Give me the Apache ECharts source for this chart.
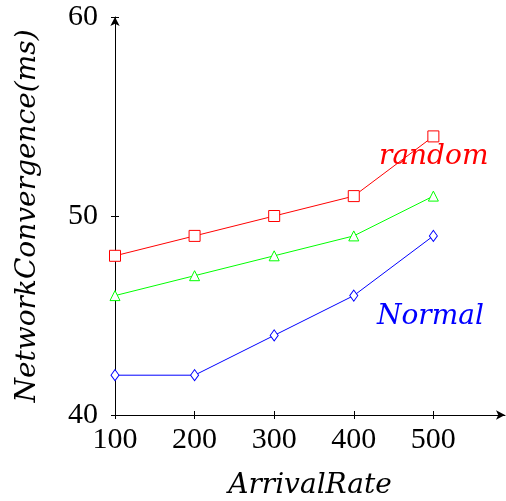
<!DOCTYPE html>
<html><head><meta charset="utf-8">
<script src="https://cdn.jsdelivr.net/npm/echarts@6/dist/echarts.min.js"></script>
<style>html,body{margin:0;padding:0;background:#fff}#c{width:506px;height:501px}</style>
</head><body><div id="c"></div>
<script>
const arrivalRate = [100, 200, 300, 400, 500];
const randomVals = [48, 49, 50, 51, 54];
const midVals = [46, 47, 48, 49, 51];
const normalVals = [42, 42, 44, 46, 49];
const xTicks = [100, 200, 300, 400, 500];
const yTicks = [40, 50, 60];

const numFont = '"Liberation Serif", serif';
const itFont = '"DejaVu Serif", serif';
const chart = echarts.init(document.getElementById('c'), null, {renderer: 'canvas'});
const pair = (xs, ys) => xs.map((x, i) => [x, ys[i]]);
chart.setOption({
  animation: false,
  grid: {left: 115, right: 1, top: 17, bottom: 86, containLabel: false, outerBoundsMode: 'none'},
  xAxis: [{
    type: 'value', min: 100, max: 590, interval: 100,
    splitLine: {show: false},
    axisLine: {lineStyle: {color: '#000', width: 1}, symbol: ['none', 'arrow'], symbolSize: [7, 9]},
    axisTick: {length: 4, lineStyle: {color: '#000'}, customValues: xTicks},
    axisLabel: {fontFamily: numFont, fontSize: 30, color: '#000', margin: 10, customValues: xTicks},
    name: 'ArrivalRate', nameLocation: 'middle', nameGap: 57,
    nameTextStyle: {fontFamily: itFont, fontStyle: 'italic', fontSize: 28, color: '#000'}
  }, {
    type: 'value', min: 100, max: 590, interval: 100, position: 'bottom',
    axisLine: {show: false}, splitLine: {show: false}, axisLabel: {show: false},
    axisTick: {inside: true, length: 4, lineStyle: {color: '#000'}, customValues: xTicks}
  }],
  yAxis: [{
    type: 'value', min: 40, max: 60, interval: 10,
    splitLine: {show: false},
    axisLine: {lineStyle: {color: '#000', width: 1}, symbol: ['none', 'arrow'], symbolSize: [7, 9]},
    axisTick: {length: 4, lineStyle: {color: '#000'}, customValues: yTicks},
    axisLabel: {fontFamily: numFont, fontSize: 30, color: '#000', margin: 17, customValues: yTicks},
    name: 'NetworkConvergence(ms)', nameLocation: 'middle', nameGap: 73, nameRotate: 90,
    nameTextStyle: {fontFamily: itFont, fontStyle: 'italic', fontSize: 28, color: '#000'}
  }, {
    type: 'value', min: 40, max: 60, interval: 10, position: 'left',
    axisLine: {show: false}, splitLine: {show: false}, axisLabel: {show: false},
    axisTick: {inside: true, length: 4, lineStyle: {color: '#000'}, customValues: yTicks}
  }],
  series: [
    {name: 'random', type: 'line', data: pair(arrivalRate, randomVals), symbol: 'rect', symbolSize: 11,
     lineStyle: {color: '#ff0000', width: 1}, itemStyle: {color: '#fff', borderColor: '#ff0000', borderWidth: 1}},
    {name: 'mid', type: 'line', data: pair(arrivalRate, midVals), symbol: 'triangle', symbolSize: 10,
     lineStyle: {color: '#00ff00', width: 1}, itemStyle: {color: '#fff', borderColor: '#00ff00', borderWidth: 1}},
    {name: 'Normal', type: 'line', data: pair(arrivalRate, normalVals), symbol: 'diamond', symbolSize: [8, 11],
     lineStyle: {color: '#0000ff', width: 1}, itemStyle: {color: '#fff', borderColor: '#0000ff', borderWidth: 1}}
  ],
  graphic: [
    {type: 'text', x: 379, y: 157, style: {text: 'random', font: 'italic 28px ' + itFont, fill: '#ff0000', verticalAlign: 'middle'}},
    {type: 'text', x: 377, y: 317, style: {text: 'Normal', font: 'italic 28px ' + itFont, fill: '#0000ff', verticalAlign: 'middle'}}
  ]
});
</script></body></html>
